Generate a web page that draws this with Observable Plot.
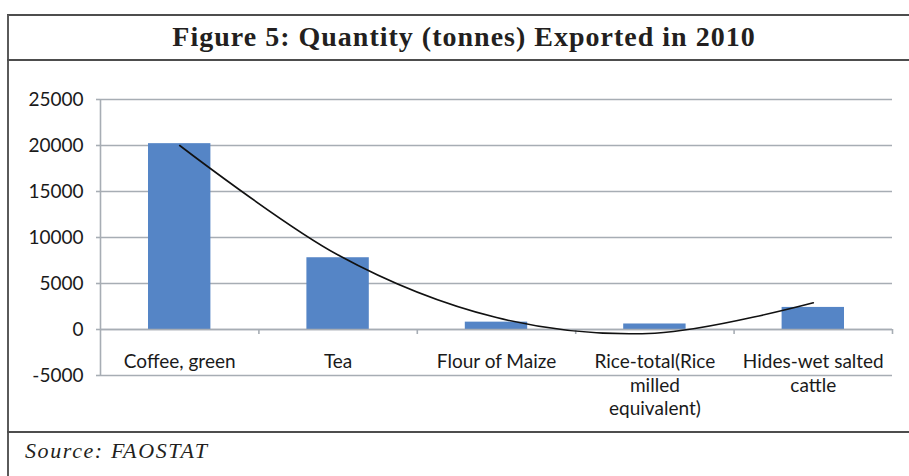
<!DOCTYPE html>
<html>
<head>
<meta charset="utf-8">
<script src="https://cdn.jsdelivr.net/npm/d3@7"></script>
<script src="https://cdn.jsdelivr.net/npm/@observablehq/plot@0.6"></script>
<style>
  html, body { margin: 0; padding: 0; background: #fff; }
  body { width: 909px; height: 476px; position: relative; overflow: hidden; }
  .hline { position: absolute; left: 7px; right: 0; height: 0; border-top: 2px solid #4d4d4d; }
  .vline { position: absolute; left: 7px; top: 15px; bottom: 0; width: 0; border-left: 2px solid #5a5a5a; }
  #title { position: absolute; left: 9px; width: 910px; top: 21px; text-align: center;
           font-family: "Liberation Serif", serif; font-weight: bold; font-size: 28px;
           letter-spacing: 1px; color: #231f20; }
  #source { position: absolute; left: 25px; top: 438px; font-family: "Liberation Serif", serif;
            font-style: italic; font-size: 22px; letter-spacing: 1.6px; color: #231f20; }
  #chart { position: absolute; left: 9px; top: 62px; }
</style>
</head>
<body>
<div class="hline" style="top:14px"></div>
<div class="vline"></div>
<div id="title">Figure 5: Quantity (tonnes) Exported in 2010</div>
<div class="hline" style="top:59px"></div>
<div id="chart"></div>
<div class="hline" style="top:431px"></div>
<div id="source">Source: FAOSTAT</div>
<script>
const categories = ["Coffee, green", "Tea", "Flour of Maize", "Rice-total(Rice milled equivalent)", "Hides-wet salted cattle"];
const tickLabels = ["Coffee, green", "Tea", "Flour of Maize", "Rice-total(Rice\nmilled\nequivalent)", "Hides-wet salted\ncattle"];
const quantities = [20200, 7800, 800, 600, 2400];
const trendValues = [20000, 8100, 1300, -400, 2900];
const yTicks = [-5000, 0, 5000, 10000, 15000, 20000, 25000];

const data = categories.map((c, i) => ({i, category: c, label: tickLabels[i], value: quantities[i], trend: trendValues[i]}));
const boundaries = d3.range(1, categories.length + 1);

const gridColor = "#a7adb4";
const font = "Lato, 'Open Sans', sans-serif";

const plot = Plot.plot({
  width: 900,
  height: 370,
  marginLeft: 91,
  marginRight: 17,
  marginTop: 37,
  marginBottom: 57,
  style: {background: "transparent", fontFamily: font, fontSize: "19px", color: "#1a1a1a"},
  x: {type: "linear", domain: [0, categories.length], axis: null},
  y: {domain: [-5000, 25000], axis: null},
  marks: [
    Plot.gridY(yTicks, {stroke: gridColor, strokeOpacity: 1, strokeWidth: 1.6}),
    Plot.axisY({ticks: yTicks, tickSize: 4, tickPadding: 13, stroke: gridColor, strokeWidth: 1.6,
      tickFormat: d => String(d), fontSize: 19, fill: "#1a1a1a"}),
    Plot.ruleX([0], {stroke: gridColor, strokeWidth: 1.6}),
    Plot.rectY(data, {x1: d => d.i, x2: d => d.i + 1, y: "value", fill: "#5585c6", insetLeft: 48, insetRight: 48}),
    Plot.ruleY([0], {stroke: gridColor, strokeWidth: 1.6}),
    Plot.ruleX(boundaries, {y1: 0, y2: 0, insetBottom: -5, stroke: gridColor, strokeWidth: 1.6}),
    Plot.line(data, {x: d => d.i + 0.5, y: "trend", stroke: "#111", strokeWidth: 1.6,
      curve: d3.curveCatmullRom.alpha(0)}),
    Plot.text(data, {x: d => d.i + 0.5, y: 0, text: "label", lineAnchor: "top", dy: 22,
      lineHeight: 1.24, fontSize: 19, fill: "#1a1a1a"})
  ]
});
document.getElementById("chart").appendChild(plot);
</script>
</body>
</html>
